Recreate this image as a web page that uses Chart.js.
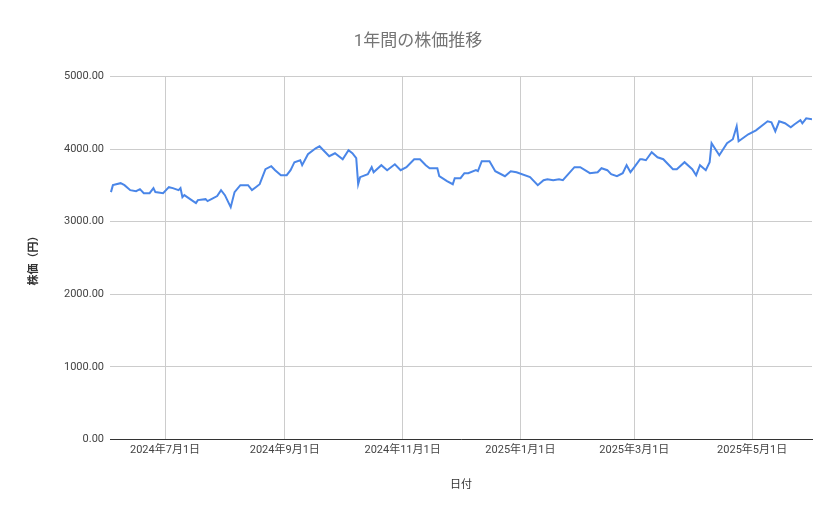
<!DOCTYPE html>
<html>
<head>
<meta charset="utf-8">
<script src="https://cdn.jsdelivr.net/npm/chart.js@4"></script>
<style>
  html, body { margin: 0; padding: 0; background: #fff; }
  #wrap { width: 839px; height: 519px; position: relative; }
</style>
</head>
<body>
<div id="wrap"><canvas id="chart"></canvas></div>
<script>
// 日数は2024年7月1日からの経過日
const days = [-28,-27,-23,-21,-18,-15,-13,-11,-8,-6,-5,-1,2,4,7,8,9,10,13,16,17,21,22,24,27,29,31,34,36,39,43,45,47,49,52,55,57,60,63,65,67,70,71,74,78,80,83,85,88,
  92,95,97,99,100,101,105,107,108,112,115,119,122,125,129,132,135,137,141,142,146,149,150,153,155,157,161,162,164,168,171,176,179,182,189,193,196,198,201,204,206,212,
  215,220,224,226,229,231,234,237,239,241,243,246,247,249,252,255,258,263,265,269,273,275,277,280,282,283,287,291,294,296,297,302,306,312,314,316,318,321,324,326,329,330,332,335];
const prices = [3407,3503,3530,3503,3434,3420,3448,3393,3393,3462,3407,3393,3475,3462,3434,3462,3338,3365,3310,3255,3297,3310,3283,3310,3352,3434,3365,3200,3407,3503,3503,3434,3475,3516,3723,3764,3709,3640,3640,3709,3819,3846,3778,3929,4011,4038,3956,3901,3942,
  3860,3984,3942,3874,3516,3613,3654,3750,3681,3778,3709,3791,3709,3750,3860,3860,3778,3736,3736,3626,3558,3516,3599,3599,3668,3668,3709,3695,3832,3832,3695,3626,3695,3681,3613,3503,3571,3585,3571,3585,3571,3750,
  3750,3668,3681,3736,3709,3654,3626,3668,3778,3681,3750,3860,3860,3846,3956,3887,3860,3723,3723,3819,3723,3640,3778,3709,3819,4080,3915,4080,4135,4313,4107,4203,4258,4382,4368,4245,4382,4355,4299,4341,4396,4355,4423,4409];

const tickDays = [0, 62, 123, 184, 243, 304];
const tickLabels = ['2024年7月1日', '2024年9月1日', '2024年11月1日', '2025年1月1日', '2025年3月1日', '2025年5月1日'];
const yTicks = [0, 1000, 2000, 3000, 4000, 5000];

const font = "Roboto, 'Noto Sans CJK JP', sans-serif";

new Chart(document.getElementById('chart'), {
  type: 'line',
  data: {
    datasets: [{
      data: days.map((d, i) => ({ x: d, y: prices[i] })),
      borderColor: '#4a86e8',
      borderWidth: 2,
      pointRadius: 0,
      tension: 0,
    }],
  },
  options: {
    responsive: true,
    maintainAspectRatio: false,
    animation: false,
    layout: { padding: { left: 24, right: 27, top: 12, bottom: 23 } },
    plugins: {
      legend: { display: false },
      tooltip: { enabled: false },
      title: {
        display: true,
        text: '1年間の株価推移',
        color: '#757575',
        font: { family: font, size: 17, weight: 'normal' },
        padding: { top: 20, bottom: 24 },
      },
    },
    scales: {
      x: {
        type: 'linear',
        min: -28.5,
        max: 335,
        afterBuildTicks: axis => { axis.ticks = tickDays.map(v => ({ value: v })); },
        ticks: {
          autoSkip: false,
          maxRotation: 0,
          color: '#444',
          font: { family: font, size: 11 },
          padding: 4,
          callback: v => tickLabels[tickDays.indexOf(v)],
        },
        grid: { color: '#cccccc', drawTicks: false },
        border: { color: '#333', width: 1 },
        title: { display: true, text: '日付', color: '#333', font: { family: font, size: 11 }, padding: { top: 18 } },
      },
      y: {
        min: 0,
        max: 5000,
        afterBuildTicks: axis => { axis.ticks = yTicks.map(v => ({ value: v })); },
        afterFit: axis => { axis.width = 86; },
        ticks: {
          color: '#444',
          font: { family: font, size: 11 },
          padding: 6,
          callback: v => v.toFixed(2),
        },
        grid: { color: '#cccccc', drawTicks: false },
        border: { display: false },
        title: { display: true, text: '株価（円）', color: '#333', font: { family: font, size: 11, weight: 'bold' } },
      },
    },
  },
});
</script>
</body>
</html>
